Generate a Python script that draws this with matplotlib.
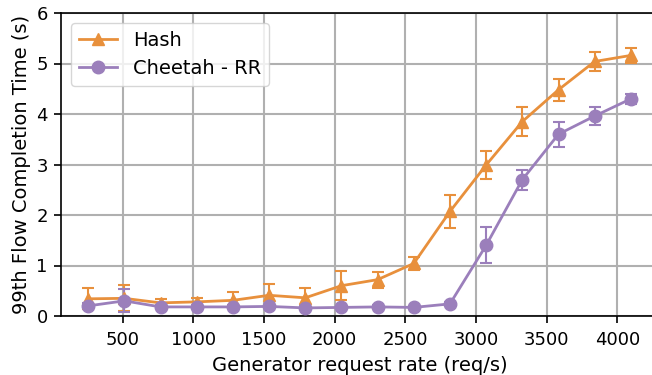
import matplotlib
matplotlib.use("Agg")
import matplotlib.pyplot as plt
from matplotlib.lines import Line2D

# Request rates (req/s)
rates = [256, 512, 768, 1024, 1280, 1536, 1792, 2048, 2304, 2560,
         2816, 3072, 3328, 3584, 3840, 4096]

# 99th percentile flow completion time (s) and error bars
hash_fct = [0.34, 0.35, 0.26, 0.28, 0.31, 0.41, 0.36, 0.60, 0.72, 1.04,
            2.07, 2.99, 3.85, 4.48, 5.04, 5.16]
hash_err = [0.21, 0.26, 0.07, 0.07, 0.16, 0.22, 0.20, 0.29, 0.16, 0.13,
            0.33, 0.28, 0.28, 0.22, 0.19, 0.15]

rr_fct = [0.20, 0.30, 0.18, 0.18, 0.18, 0.19, 0.16, 0.17, 0.18, 0.17,
          0.24, 1.40, 2.70, 3.60, 3.96, 4.30]
rr_err = [0.05, 0.23, 0.03, 0.03, 0.03, 0.03, 0.03, 0.03, 0.03, 0.03,
          0.03, 0.36, 0.20, 0.25, 0.18, 0.10]

xticks = [500, 1000, 1500, 2000, 2500, 3000, 3500, 4000]
yticks = [0, 1, 2, 3, 4, 5, 6]

orange = "#e8903c"
purple = "#9b7fbb"

fig = plt.figure(figsize=(6.52, 3.75), dpi=100)
ax = fig.add_axes([61 / 652, 1 - 316 / 375, 597 / 652, 303 / 375])

ax.errorbar(rates, hash_fct, yerr=hash_err, color=orange, marker="^",
            markersize=9, linewidth=2, capsize=4, capthick=1.5,
            elinewidth=1.5, zorder=3)
ax.errorbar(rates, rr_fct, yerr=rr_err, color=purple, marker="o",
            markersize=9, linewidth=2, capsize=4, capthick=1.5,
            elinewidth=1.5, zorder=3)

ax.set_ylim(0, 6)
ax.set_xticks(xticks)
ax.set_yticks(yticks)
ax.tick_params(labelsize=13, length=5, width=1.2)
ax.tick_params(axis="x", pad=5.5)
ax.tick_params(axis="y", pad=4.5)
ax.grid(True, color="#b0b0b0", linewidth=1.5)
ax.set_axisbelow(True)
ax.set_xlabel("Generator request rate (req/s)", fontsize=14, labelpad=5.5)
ax.set_ylabel("99th Flow Completion Time (s)", fontsize=14)
for s in ax.spines.values():
    s.set_linewidth(1.2)
ax.spines["right"].set_visible(False)

handles = [
    Line2D([], [], color=orange, marker="^", markersize=9, linewidth=2),
    Line2D([], [], color=purple, marker="o", markersize=9, linewidth=2),
]
ax.legend(handles, ["Hash", "Cheetah - RR"], loc="upper left",
          fontsize=14, framealpha=0.8)

fig.savefig("out.png", dpi=100)
